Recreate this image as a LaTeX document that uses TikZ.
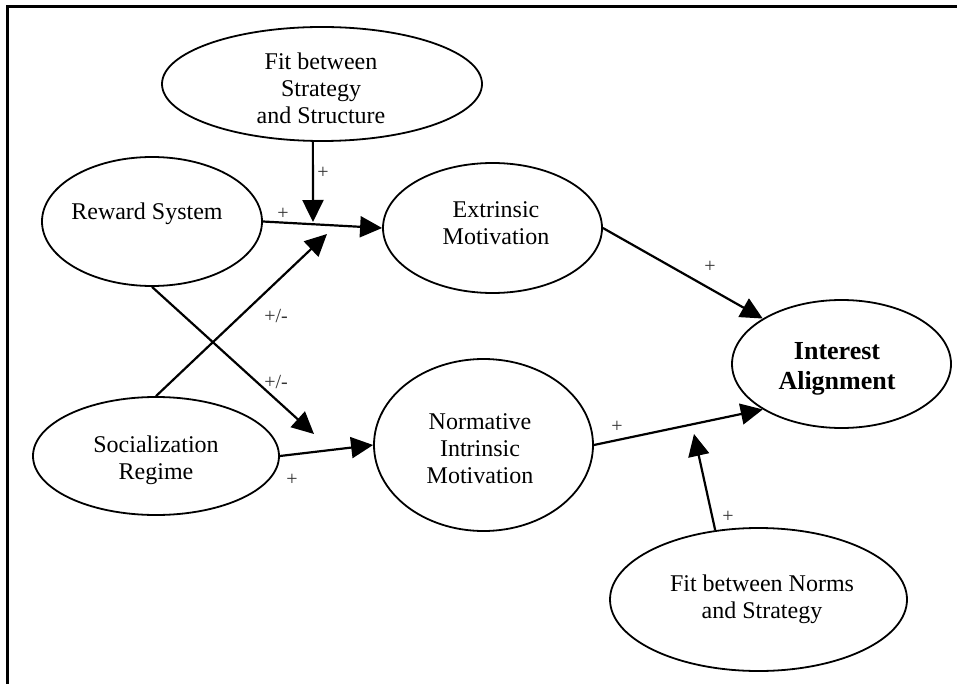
\documentclass[tikz,border=0pt]{standalone}
\usepackage{fontspec}
\setmainfont{Liberation Serif}
\usetikzlibrary{arrows.meta,shapes.geometric}

\begin{document}
\begin{tikzpicture}[x=1pt,y=-1pt,
  construct/.style={draw=black, line width=1.8pt, ellipse, inner sep=0pt},
  nametext/.style={font=\fontsize{24}{27}\selectfont, align=center, text=black, inner sep=0pt},
  boldtext/.style={font=\fontsize{26}{30}\selectfont\bfseries, align=center, text=black, inner sep=0pt},
  signtext/.style={font=\fontsize{20}{22}\selectfont, text=black!80, inner sep=0pt},
  link/.style={line width=2.2pt, -{Triangle[length=22pt,width=21pt]}},
  frameline/.style={line width=2.3pt}
]
\useasboundingbox (0,0) rectangle (957,684);

% open frame: left and top edges
\draw[frameline] (7.5,690) -- (7.5,6.5) -- (960,6.5);

% constructs
\node[construct, minimum width=320pt, minimum height=114pt] (fss) at (322,84) {};
\node[nametext] (fsstext) at (321,88) {Fit between\\Strategy\\and Structure};

\node[construct, minimum width=220pt, minimum height=129pt] (reward) at (152,221.5) {};
\node[nametext] (rewardtext) at (147,213.4) {Reward System};

\node[construct, minimum width=219pt, minimum height=130pt] (extr) at (492.5,228) {};
\node[nametext] (extrtext) at (496,223.5) {Extrinsic\\Motivation};

\node[construct, minimum width=246pt, minimum height=118pt] (soc) at (156,456) {};
\node[nametext] (soctext) at (156,460.6) {Socialization\\Regime};

\node[construct, minimum width=219pt, minimum height=172pt] (norm) at (483.5,445) {};
\node[nametext] (normtext) at (480,449) {Normative\\Intrinsic\\Motivation};

\node[construct, minimum width=219pt, minimum height=128pt] (ia) at (841.5,364) {};
\node[boldtext] (iatext) at (837,368.9) {Interest\\Alignment};

\node[construct, minimum width=297pt, minimum height=143pt] (fns) at (758.5,599.5) {};
\node[nametext] (fnstext) at (762,598.9) {Fit between Norms\\and Strategy};

% points where the moderating arrows end
\coordinate (m1) at (313,222);
\coordinate (m2) at (327,234);
\coordinate (m3) at (314,434);
\coordinate (m4) at (694,434);

% main paths
\draw[link] (reward.east) -- (extr.west);
\draw[link] (soc.east) -- (norm.west);
\draw[link] (extr.east) -- (ia.150);
\draw[link] (norm.east) -- (ia.210);

% moderating and cross paths
\draw[link] (fss.261) -- (m1);
\draw[link] (soc.north) -- (m2);
\draw[link] (reward.south) -- (m3);
\draw[link] (fns.122) -- (m4);

% path signs
\node[signtext] (s1) at (323,173) {+};
\node[signtext] (s2) at (283,214) {+};
\node[signtext] (s3) at (276,316) {+/-};
\node[signtext] (s4) at (276,382) {+/-};
\node[signtext] (s5) at (292,480) {+};
\node[signtext] (s6) at (710,267) {+};
\node[signtext] (s7) at (617,427) {+};
\node[signtext] (s8) at (728,517) {+};
\end{tikzpicture}
\end{document}
